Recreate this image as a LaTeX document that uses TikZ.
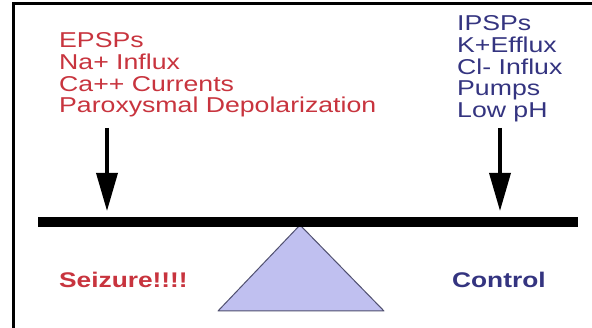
\documentclass[tikz,border=0pt]{standalone}
\usepackage{fontspec}
\usetikzlibrary{arrows.meta}
\newfontfamily\labfont[FakeStretch=1.24]{Liberation Sans}
\definecolor{exred}{RGB}{200,52,62}
\definecolor{innavy}{RGB}{52,52,128}
\definecolor{fulcrum}{RGB}{192,192,240}
\definecolor{fulcrumedge}{RGB}{80,80,112}
\tikzset{
  lefttxt/.style={anchor=base west, inner sep=0pt, text=exred, font=\labfont\fontsize{21.5}{21.7}\selectfont},
  righttxt/.style={anchor=base west, inner sep=0pt, text=innavy, font=\labfont\fontsize{21.5}{21.7}\selectfont},
  boldlab/.style={anchor=base west, inner sep=0pt, font=\labfont\bfseries\fontsize{21.2}{22}\selectfont},
  pusharrow/.style={line width=3.5pt, -{Triangle[width=21pt,length=38pt]}, shorten >=0pt},
}
\begin{document}
\begin{tikzpicture}[x=1pt,y=-1pt]
\useasboundingbox (0,0) rectangle (592,328);
\fill[white] (0,0) rectangle (592,328);
% frame
\draw[line width=3pt] (13,328) -- (13,4) -- (592,4);
% left labels
\node[lefttxt] (e1) at (59,48) {EPSPs};
\node[lefttxt] (e2) at (59,69.7) {Na+ Influx};
\node[lefttxt] (e3) at (59,91.4) {Ca++ Currents};
\node[lefttxt] (e4) at (59,113) {Paroxysmal Depolarization};
% right labels
\node[righttxt] (i1) at (457,31) {IPSPs};
\node[righttxt] (i2) at (457,52.7) {K+Efflux};
\node[righttxt] (i3) at (457,74.4) {Cl- Influx};
\node[righttxt] (i4) at (457,96) {Pumps};
\node[righttxt] (i5) at (457,117.7) {Low pH};
% arrows
\coordinate (la) at (107,128);
\coordinate (lb) at (107,211);
\coordinate (ra) at (500,128);
\coordinate (rb) at (500,211);
\draw[pusharrow] (la) -- (lb);
\draw[pusharrow] (ra) -- (rb);
% fulcrum
\coordinate (apex) at (300,225);
\coordinate (bl) at (218,311);
\coordinate (br) at (384,311);
\draw[fill=fulcrum, draw=fulcrumedge, line width=1pt, line join=round] (apex) -- (bl) -- (br) -- cycle;
% beam
\coordinate (b1) at (38,222.5);
\coordinate (b2) at (578,222.5);
\draw[line width=10pt] (b1) -- (b2);
% bottom labels
\node[boldlab, text=exred] (sz) at (59,288) {Seizure!!!!};
\node[boldlab, text=innavy] (ct) at (452,288) {Control};
\end{tikzpicture}
\end{document}
